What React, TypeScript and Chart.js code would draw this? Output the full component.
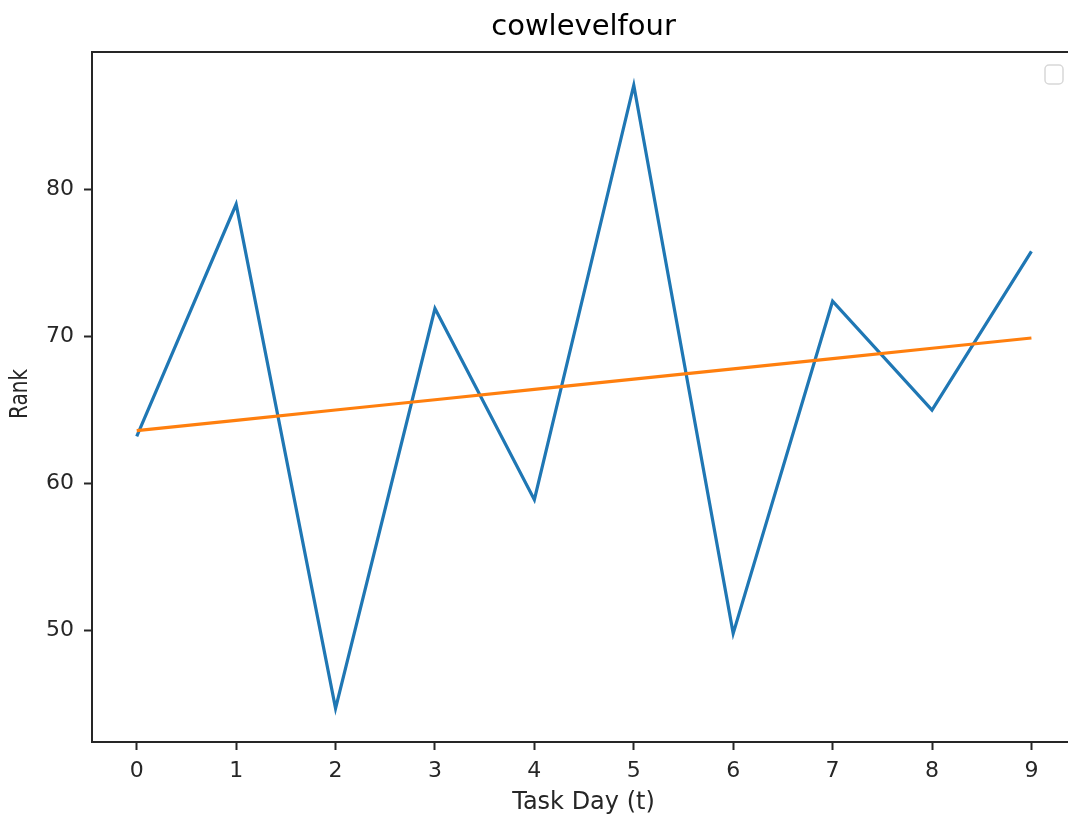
import React, { useEffect, useRef } from "react";
import { Chart, registerables } from "chart.js";

Chart.register(...registerables);

// Task days on the x axis
const taskDays = [0, 1, 2, 3, 4, 5, 6, 7, 8, 9];
// Daily rank
const rankValues = [63.2, 79.0, 44.7, 71.9, 58.9, 87.1, 49.8, 72.4, 65.0, 75.8];
// Fitted trend line
const trendValues = [63.6, 64.3, 65.0, 65.7, 66.4, 67.1, 67.8, 68.5, 69.2, 69.9];
// Tick positions
const xTicks = [0, 1, 2, 3, 4, 5, 6, 7, 8, 9];
const yTicks = [50, 60, 70, 80];

const TITLE = "cowlevelfour";
const X_TITLE = "Task Day (t)";
const Y_TITLE = "Rank";

const FONT = "'DejaVu Sans', sans-serif";
const TEXT = "#262626";

const frameAndText = {
  id: "frameAndText",
  afterDraw(chart: any) {
    const { ctx, chartArea } = chart;
    const { left, top, right, bottom } = chartArea;
    ctx.save();
    // top spine
    ctx.strokeStyle = "#262626";
    ctx.lineWidth = 2;
    ctx.beginPath();
    ctx.moveTo(left, top);
    ctx.lineTo(right + 2, top);
    ctx.stroke();

    const cx = 583.5;
    ctx.textAlign = "center";
    ctx.textBaseline = "middle";
    ctx.fillStyle = "#000";
    ctx.font = `29px ${FONT}`;
    ctx.fillText(TITLE, cx, 27);
    ctx.fillStyle = TEXT;
    ctx.font = `24px ${FONT}`;
    ctx.fillText(X_TITLE, cx, 803);
    ctx.save();
    ctx.translate(21, 394);
    ctx.rotate(-Math.PI / 2);
    ctx.scale(1, 1.2);
    ctx.font = `20px ${FONT}`;
    ctx.fillText(Y_TITLE, 0, 0);
    ctx.restore();

    // empty legend frame
    ctx.strokeStyle = "#d8d8d8";
    ctx.lineWidth = 1.5;
    ctx.fillStyle = "rgba(255,255,255,0.9)";
    ctx.beginPath();
    ctx.roundRect(1045, 65, 18, 19, 4);
    ctx.fill();
    ctx.stroke();
    ctx.restore();
  },
};

export default function App() {
  const ref = useRef<HTMLCanvasElement | null>(null);

  useEffect(() => {
    document.body.style.margin = "0";
    document.body.style.overflow = "hidden";
    const canvas = ref.current;
    if (!canvas) return;
    const chart = new Chart(canvas, {
      type: "line",
      data: {
        datasets: [
          {
            label: "rank",
            data: taskDays.map((d, i) => ({ x: d, y: rankValues[i] })),
            borderColor: "#1f77b4",
            borderWidth: 3.2,
            pointRadius: 0,
            tension: 0,
            order: 1,
          },
          {
            label: "trend",
            data: taskDays.map((d, i) => ({ x: d, y: trendValues[i] })),
            borderColor: "#ff7f0e",
            borderWidth: 3.2,
            pointRadius: 0,
            tension: 0,
            order: 0,
          },
        ],
      },
      options: {
        responsive: false,
        animation: false,
        layout: { padding: { top: 52, right: 0, left: 0, bottom: 0 } },
        plugins: {
          legend: { display: false },
          tooltip: { enabled: false },
          title: { display: false },
        },
        scales: {
          x: {
            type: "linear",
            min: -0.45,
            max: 9.368,
            afterBuildTicks: (s: any) => {
              s.ticks = xTicks.map((v) => ({ value: v }));
            },
            afterFit: (s: any) => {
              s.height = 78;
              s.paddingRight = 0;
            },
            grid: {
              drawOnChartArea: false,
              drawTicks: true,
              tickLength: 8,
              tickWidth: 2,
              tickColor: "#262626",
            },
            border: { display: true, color: "#262626", width: 2 },
            ticks: {
              color: TEXT,
              font: { family: FONT, size: 22 },
              padding: 8,
              maxRotation: 0,
              autoSkip: false,
            },
          },
          y: {
            type: "linear",
            min: 42.41,
            max: 89.36,
            afterBuildTicks: (s: any) => {
              s.ticks = yTicks.map((v) => ({ value: v }));
            },
            afterFit: (s: any) => {
              s.width = 92;
            },
            grid: {
              drawOnChartArea: false,
              drawTicks: true,
              tickLength: 8,
              tickWidth: 2,
              tickColor: "#262626",
            },
            border: { display: true, color: "#262626", width: 2 },
            ticks: {
              color: TEXT,
              font: { family: FONT, size: 22 },
              padding: 10,
              autoSkip: false,
            },
          },
        },
      },
      plugins: [frameAndText],
    });
    return () => chart.destroy();
  }, []);

  return (
    <div style={{ position: "fixed", left: 0, top: 0, width: 1068, height: 820, overflow: "hidden", background: "#fff" }}>
      <canvas ref={ref} width={1068} height={820} style={{ display: "block" }} />
    </div>
  );
}
